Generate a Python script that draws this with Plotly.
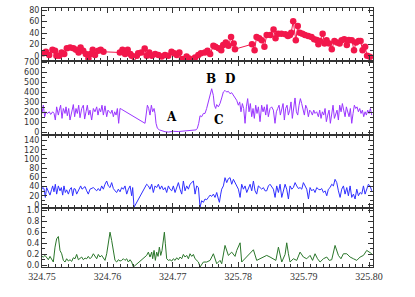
import numpy as np
import plotly.graph_objects as go

# ---------------- data (time offsets in units of 0.001 from 324.75) ----------------
x0 = 324.75
tick_vals = [324.75, 324.76, 324.77, 324.78, 324.79, 324.80]
tick_text = ["324.75", "324.76", "324.77", "325.78", "325.79", "325.80"]

red_t = [0.2, 0.6, 1.1, 1.6, 2.0, 2.2, 2.65, 3.0, 3.4, 3.8, 4.3, 4.8, 5.2, 5.6, 5.9, 6.3, 6.7, 7.1, 7.4, 7.75,
         8.1, 8.6, 8.97, 9.4, 11.9, 12.3, 12.7, 13.1, 13.5, 13.7, 14.0, 14.5, 14.7, 15.2, 15.7, 16.0, 16.4, 16.8,
         17.3, 17.8, 18.3, 18.8, 19.3, 19.8, 20.2, 20.6, 21.0, 21.4, 21.7, 22.1, 22.5, 23.0, 23.4, 23.9, 24.3,
         24.9, 25.3, 25.7, 26.2, 26.5, 27.0, 27.4, 27.7, 28.1, 28.5, 28.9, 29.3, 29.5, 32.1, 32.5, 32.8, 33.2,
         33.6, 34.0, 34.35, 34.9, 35.4, 35.7, 36.1, 36.6, 37.2, 37.6, 37.9, 38.1, 38.4, 38.8, 39.1, 39.4, 39.8,
         40.2, 40.7, 41.2, 41.6, 42.0, 42.25, 42.5, 42.9, 43.2, 43.5, 43.9, 44.3, 44.7, 45.1, 45.5, 45.8, 46.2,
         46.6, 46.9, 47.35, 47.7, 48.0, 48.4, 48.7, 49.0, 49.4, 49.7, 50.15]
red_v = [4.6, 7.0, 1.2, 10.4, 8.7, 0.0, 0.0, 5.8, 2.9, 13.3, 14.5, 13.3, 10.4, 5.8, 14.5, 8.7, 2.9, -4.6, 2.9, 10.4,
         1.2, 8.7, 10.4, 7.0, 5.8, 10.4, 2.9, 10.4, 2.9, 0.0, -12.0, 0.0, 4.6, 5.8, 12.8, 0.0, 5.8, 0.0,
         2.9, 1.2, -1.2, 1.2, 0.0, 7.0, 4.6, 1.2, 5.8, -5.8, -7.0, -1.2, -4.6, -7.0, -2.9, 1.2, 4.6,
         5.8, 8.7, 2.9, 17.4, 15.7, 13.3, 9.9, 19.1, 23.2, 17.4, 33.0, 21.5, 11.6, 20.3, 9.9, 33.0, 30.7,
         27.3, 15.7, 36.5, 36.5, 46.4, 30.7, 38.9, 38.9, 37.7, 34.8, 36.5, 40.6, 60.9, 27.3, 52.2, 40.6, 38.9,
         36.5, 34.8, 33.0, 29.0, 27.8, 20.3, 26.1, 38.9, 21.5, 27.3, 21.5, 11.6, 26.1, 23.2, 21.5, 27.3, 29.0,
         19.1, 27.8, 27.3, 9.9, 23.2, 26.1, 26.1, 9.9, 15.7, 0.0, -1.7]

purple_t = [0.0, 0.20, 0.41, 0.61, 0.81, 1.12, 1.33, 1.63, 1.84, 2.04, 2.24, 2.50, 2.65, 2.85, 3.06, 3.26, 3.52,
            3.67, 3.87, 4.08, 4.28, 4.54, 4.79, 4.99, 5.20, 5.40, 5.61, 5.81, 6.07, 6.32, 6.52, 6.73, 6.93, 7.14,
            7.34, 7.59, 7.85, 8.10, 8.36, 8.56, 8.77, 8.97, 9.17, 9.38, 9.63, 9.89, 10.09, 10.30, 10.50, 10.70,
            10.91, 11.11, 11.32, 11.52, 11.72, 11.93, 12.13, 15.75, 15.90, 16.11, 16.31, 16.51, 16.72, 16.92,
            17.13, 17.28, 17.43, 17.64, 17.94, 18.30, 18.81, 19.32, 20.08, 20.85, 21.61, 22.38, 23.14, 23.55,
            23.75, 23.96, 24.16, 24.41, 24.67, 24.92, 25.17, 25.43, 25.68, 25.94, 26.19, 26.35, 26.55, 26.70,
            26.96, 27.21, 27.47, 27.72, 27.98, 28.23, 28.49, 28.74, 29.00, 29.25, 29.51, 29.76, 30.02, 30.22,
            30.42, 30.63, 30.83, 31.04, 31.24, 31.44, 31.65, 31.85, 32.06, 32.26, 32.46, 32.67, 32.87, 33.08,
            33.33, 33.58, 33.79, 33.99, 34.20, 34.40, 34.60, 34.86, 35.11, 35.37, 35.62, 35.83, 36.03, 36.24,
            36.44, 36.64, 36.85, 37.05, 37.25, 37.46, 37.66, 37.87, 38.07, 38.27, 38.48, 38.68, 38.89, 39.09,
            39.29, 39.50, 39.70, 39.91, 40.11, 40.31, 40.52, 40.72, 40.92, 41.13, 41.33, 41.54, 41.74, 41.99,
            42.25, 42.45, 42.66, 42.86, 43.07, 43.27, 43.47, 43.68, 43.88, 44.08, 44.29, 44.49, 44.70, 44.90,
            45.10, 45.31, 45.51, 45.72, 45.92, 46.12, 46.33, 46.53, 46.74, 46.94, 47.14, 47.35, 47.55, 47.75,
            47.96, 48.16, 48.37, 48.57, 48.77, 48.98, 49.18, 49.39, 49.59, 49.79, 50.00, 50.20, 50.41]
purple_v = [190.6, 272.7, 157.7, 207.0, 190.6, 207.0, 180.7, 207.0, 190.6, 124.9, 256.3, 174.2, 223.4, 272.7,
            141.3, 239.9, 190.6, 256.3, 167.6, 239.9, 124.9, 213.6, 279.3, 157.7, 239.9, 190.6, 272.7, 147.9,
            239.9, 272.7, 134.7, 207.0, 272.7, 174.2, 223.4, 124.9, 239.9, 207.0, 256.3, 174.2, 239.9, 207.0,
            272.7, 174.2, 266.2, 157.7, 223.4, 207.0, 190.6, 223.4, 157.7, 207.0, 174.2, 239.9, 92.0, 239.9,
            233.3, 92.0, 174.2, 272.7, 239.9, 174.2, 272.7, 207.0, 239.9, 190.6, 92.0, 42.7, 26.3, 16.4, 8.0,
            5.0, 12.0, 9.9, 14.0, 16.4, 18.0, 26.3, 42.7, 92.0, 167.6, 157.7, 190.6, 190.6, 239.9, 305.6,
            387.7, 437.0, 371.3, 272.7, 239.9, 279.3, 256.3, 289.2, 345.0, 404.2, 420.6, 404.2, 410.8, 387.7,
            397.6, 371.3, 345.0, 322.0, 272.7, 305.6, 207.0, 289.2, 239.9, 92.0, 256.3, 338.5, 207.0, 289.2,
            157.7, 239.9, 141.3, 272.7, 190.6, 256.3, 108.4, 272.7, 207.0, 256.3, 174.2, 279.3, 157.7, 239.9,
            256.3, 223.4, 92.0, 207.0, 239.9, 272.7, 174.2, 239.9, 289.2, 124.9, 239.9, 272.7, 174.2, 223.4,
            305.6, 141.3, 256.3, 345.0, 207.0, 174.2, 272.7, 338.5, 289.2, 223.4, 174.2, 272.7, 239.9, 157.7,
            223.4, 207.0, 174.2, 223.4, 190.6, 207.0, 157.7, 223.4, 141.3, 207.0, 174.2, 239.9, 108.4, 174.2,
            223.4, 92.0, 207.0, 272.7, 141.3, 190.6, 223.4, 124.9, 272.7, 207.0, 289.2, 223.4, 157.7, 256.3,
            213.6, 157.7, 239.9, 92.0, 190.6, 272.7, 239.9, 256.3, 207.0, 239.9, 190.6, 223.4, 157.7, 207.0,
            174.2, 223.4, 190.6, 239.9, 174.2]

blue_t = [0.0, 0.10, 0.31, 0.51, 0.71, 0.97, 1.22, 1.48, 1.63, 1.83, 2.04, 2.24, 2.50, 2.75, 2.96, 3.16, 3.36,
          3.57, 3.77, 4.03, 4.28, 4.49, 4.69, 4.89, 5.10, 5.30, 5.50, 5.71, 5.91, 6.12, 6.32, 6.58, 6.83, 7.08,
          7.34, 7.59, 7.85, 8.10, 8.36, 8.61, 8.87, 9.12, 9.38, 9.63, 9.89, 10.14, 10.40, 10.65, 10.91, 11.16,
          11.42, 11.67, 11.93, 12.18, 12.44, 12.69, 12.95, 13.20, 13.46, 13.71, 13.86, 14.07, 16.00, 16.26,
          16.51, 16.77, 17.02, 17.28, 17.53, 17.79, 18.04, 18.30, 18.55, 18.81, 19.06, 19.32, 19.57, 19.83,
          20.08, 20.34, 20.59, 20.85, 21.10, 21.36, 21.61, 21.87, 22.12, 22.38, 22.63, 22.89, 23.14, 23.40,
          23.65, 23.91, 24.16, 24.41, 24.67, 24.92, 25.18, 25.43, 25.69, 25.94, 26.20, 26.45, 26.71, 26.96,
          27.12, 27.32, 27.47, 27.73, 27.98, 28.24, 28.49, 28.75, 29.00, 29.26, 29.51, 29.77, 30.02, 30.28,
          30.53, 30.79, 31.04, 31.30, 31.55, 31.81, 32.06, 32.32, 32.57, 32.82, 33.08, 33.33, 33.59, 33.84,
          34.10, 34.35, 34.61, 34.86, 35.12, 35.37, 35.63, 35.88, 36.14, 36.39, 36.65, 36.90, 37.16, 37.41,
          37.67, 37.92, 38.18, 38.43, 38.69, 38.94, 39.20, 39.45, 39.71, 39.96, 40.22, 40.47, 40.73, 40.98,
          41.24, 41.49, 41.74, 42.00, 42.25, 42.51, 42.76, 43.02, 43.27, 43.53, 43.78, 44.04, 44.29, 44.55,
          44.80, 45.06, 45.31, 45.57, 45.82, 46.08, 46.33, 46.59, 46.84, 47.10, 47.35, 47.61, 47.86, 48.12,
          48.37, 48.63, 48.88, 49.14, 49.39, 49.64, 49.90, 50.15, 50.41]
blue_v = [34.3, 37.8, 35.7, 16.4, 37.8, 27.1, 21.4, 34.3, 41.4, 28.6, 45.0, 23.6, 41.4, 30.7, 37.8, 21.4, 41.4,
          27.1, 32.8, 23.6, 34.3, 37.8, 20.0, 35.7, 34.3, 23.6, 30.7, 37.8, 41.4, 34.3, 37.8, 40.0, 30.7, 23.6,
          34.3, 35.7, 37.8, 34.3, 30.7, 35.7, 30.7, 41.4, 34.3, 45.0, 52.1, 41.4, 37.8, 48.6, 35.7, 30.7,
          27.1, 34.3, 28.6, 37.8, 34.3, 41.4, 23.6, 34.3, 41.4, 20.0, 37.8, -5.0, 45.0, 41.4,
          34.3, 45.0, 27.1, 41.4, 37.8, 45.0, 34.3, 41.4, 32.8, 37.8, 27.1, 41.4, 34.3, 30.7,
          41.4, 27.1, 37.8, 48.6, 34.3, 23.6, 52.1, 30.7, 41.4, 34.3, 45.0, 48.6, 52.1, 23.6,
          41.4, 37.8, -5.0, 9.3, 5.7, 12.9, 11.4, 16.4, 21.4, 18.6, 23.6, 16.4, 27.1, 12.9,
          5.7, 23.6, 34.3, 41.4, 59.3, 48.6, 57.1, 59.3, 45.0, 55.7, 48.6, 41.4, 34.3, 16.4,
          45.0, 34.3, 41.4, 27.1, 37.8, 45.0, 30.7, 52.1, 30.7, 23.6, 41.4, 37.8, 34.3, 37.8,
          30.7, 30.7, 41.4, 45.0, 37.8, 34.3, 16.4, 41.4, 27.1, 45.0, 16.4, 34.3, 45.0, 34.3,
          12.9, 41.4, 34.3, 37.8, 48.6, 41.4, 35.7, 37.8, 34.3, 48.6, 41.4, 34.3, 12.9, 37.8,
          30.7, 34.3, 27.1, 37.8, 34.3, 32.8, 35.7, 27.1, 30.7, 20.0, 34.3, 37.8, 45.0, 41.4,
          55.7, 48.6, 30.7, 16.4, 34.3, 41.4, 23.6, 37.8, 20.0, 41.4, 16.4, 23.6, 12.9, 34.3,
          20.0, 27.1, 23.6, 41.4, 23.6, 34.3, 45.0, 41.4, 30.7]

green_t = [0.0, 0.20, 0.46, 0.71, 0.97, 1.22, 1.48, 1.73, 1.99, 2.24, 2.50, 2.75, 3.01, 3.26, 3.52, 3.77, 4.03,
           4.28, 4.54, 4.79, 5.05, 5.30, 5.56, 5.81, 6.07, 6.32, 6.58, 6.83, 7.08, 7.34, 7.59, 7.85, 8.10, 8.36,
           8.61, 8.87, 9.12, 9.38, 9.63, 9.89, 10.14, 10.40, 10.65, 10.91, 11.16, 11.42, 11.67, 11.93, 12.18,
           12.44, 12.69, 12.95, 13.20, 13.46, 13.71, 13.97, 16.00, 16.26, 16.51, 16.77, 16.92, 17.13, 17.33,
           17.53, 17.74, 17.94, 18.15, 18.35, 18.55, 18.71, 18.86, 19.06, 19.32, 19.57, 19.83, 20.08, 20.34,
           20.59, 20.85, 21.10, 21.36, 21.61, 21.87, 22.12, 22.38, 22.63, 22.89, 23.14, 23.40, 23.65, 23.91,
           24.16, 24.67, 25.18, 25.69, 26.20, 26.71, 27.22, 27.47, 27.98, 28.49, 29.00, 29.51, 29.77, 30.28,
           30.53, 31.04, 31.42, 31.81, 32.32, 32.82, 33.33, 33.84, 34.35, 34.86, 35.37, 35.75, 36.14, 36.65,
           37.16, 37.41, 37.67, 37.92, 38.43, 38.94, 39.45, 39.96, 40.47, 40.98, 41.36, 41.74, 42.12, 42.51,
           43.02, 43.53, 43.91, 44.29, 44.80, 45.31, 45.70, 46.08, 46.59, 47.10, 47.61, 48.12, 48.63, 49.14,
           49.64, 50.15, 50.41]
green_v = [0.164, 0.152, 0.182, 0.139, 0.103, 0.164, 0.121, 0.061, 0.333, 0.485, 0.527, 0.273, 0.212, 0.091,
           0.061, 0.121, 0.079, 0.103, 0.073, 0.139, 0.121, 0.200, 0.103, 0.121, 0.152, 0.103, 0.133, 0.121,
           0.164, 0.121, 0.152, 0.212, 0.164, 0.121, 0.200, 0.152, 0.182, 0.121, 0.091, 0.212, 0.424, 0.606,
           0.455, 0.242, 0.091, 0.061, 0.103, 0.079, 0.091, 0.121, 0.091, 0.121, 0.061, 0.103, 0.061, -0.03,
           0.182, 0.242, 0.152, 0.242, 0.121, 0.273, 0.091, 0.242, 0.164, 0.333, 0.182, 0.273, 0.515, 0.606,
           0.394, 0.121, 0.091, 0.103, 0.079, 0.121, 0.091, 0.139, 0.103, 0.152, 0.121, 0.200, 0.152, 0.182,
           0.121, 0.212, 0.164, 0.200, 0.121, 0.091, 0.061,
           -0.03, 0.061, 0.061, 0.091, 0.212, 0.030, 0.091, 0.030, 0.364, 0.182, 0.242, 0.164, 0.273, 0.412,
           0.061, 0.121, 0.182, 0.212, 0.285, 0.091, 0.121, 0.152, 0.182, 0.152, 0.121, 0.091, 0.333, 0.061,
           0.200, 0.412, 0.212, 0.061, 0.121, 0.091, 0.242, 0.152, 0.121, 0.182, 0.091, 0.212, 0.121, 0.061,
           0.121, 0.152, 0.091, 0.103, 0.364, 0.182, 0.121, 0.212, 0.212, 0.152, 0.121, 0.091, 0.152, 0.182,
           0.273, 0.242, 0.212]

labels = ["A", "B", "C", "D"]
labels_t = [19.8, 25.9, 27.0, 28.7]
labels_v = [158, 535, 128, 535]


def tx(t):
    return list(x0 + np.array(t) / 1000.0)


RED = "#F2174B"
PURPLE = "#9A35FF"
BLUE = "#2F2FFF"
GREEN = "#2A762A"
AX = "#333333"

fig = go.Figure()
fig.add_trace(go.Scatter(x=tx(red_t), y=red_v, mode="lines+markers",
                         line=dict(color=RED, width=1), marker=dict(color=RED, size=6.5),
                         xaxis="x", yaxis="y"))
fig.add_trace(go.Scatter(x=tx(purple_t), y=purple_v, mode="lines",
                         line=dict(color=PURPLE, width=1), xaxis="x2", yaxis="y2"))
fig.add_trace(go.Scatter(x=tx(blue_t), y=blue_v, mode="lines",
                         line=dict(color=BLUE, width=1), xaxis="x3", yaxis="y3"))
fig.add_trace(go.Scatter(x=tx(green_t), y=green_v, mode="lines",
                         line=dict(color=GREEN, width=1), xaxis="x4", yaxis="y4"))

xrange = [324.75, 324.8006]
minor_x = list(np.round(np.arange(324.75, 324.8006, 0.001), 4))

def xax(show, anchor):
    return dict(range=xrange, tickmode="array", tickvals=tick_vals, ticktext=tick_text,
                showticklabels=show, ticks="inside", ticklen=5, tickcolor=AX, tickwidth=1,
                mirror="allticks", showline=True, linecolor=AX, linewidth=1,
                showgrid=False, zeroline=False, anchor=anchor,
                tickfont=dict(family="Liberation Serif", size=10, color="#333"),
                minor=dict(ticks="inside", ticklen=3, tickcolor=AX, tickmode="array", tickvals=minor_x))

def yax(rng, dtick, mdtick, dom, anchor):
    return dict(range=rng, domain=dom, tick0=0, dtick=dtick, ticks="inside", ticklen=5,
                tickcolor=AX, tickwidth=1, mirror="allticks", showline=True, linecolor=AX,
                linewidth=1, showgrid=False, zeroline=False, anchor=anchor,
                tickfont=dict(family="DejaVu Sans", size=8, color="#333"),
                minor=dict(ticks="inside", ticklen=3, tickcolor=AX, dtick=mdtick, tick0=0))

fig.update_layout(
    width=415, height=297, margin=dict(l=42, r=42, t=5, b=30),
    paper_bgcolor="white", plot_bgcolor="white", showlegend=False,
    xaxis=xax(False, "y"), xaxis2=xax(False, "y2"), xaxis3=xax(False, "y3"), xaxis4=xax(True, "y4"),
    yaxis=yax([-9, 84], 20, 10, [0.7958, 1.0], "x"),
    yaxis2=yax([-25, 715], 100, 50, [0.5095, 0.7958], "x2"),
    yaxis3=yax([-7, 152], 20, 10, [0.2271, 0.5095], "x3"),
    yaxis4=yax([-0.03, 1.045], 0.2, 0.1, [0.0, 0.2271], "x4"),
)
fig.update_layout(yaxis4=dict(tickformat=".1f"))

for lab, t, v in zip(labels, labels_t, labels_v):
    fig.add_annotation(x=x0 + t / 1000.0, y=v, xref="x2", yref="y2", text="<b>%s</b>" % lab,
                       showarrow=False, font=dict(family="DejaVu Serif", size=12, color="black"))

fig.write_html("out.html", config={"displayModeBar": False},
               post_script="document.body.style.margin='0px';")
